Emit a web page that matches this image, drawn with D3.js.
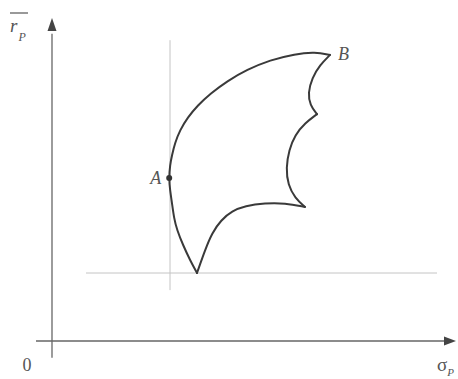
<!DOCTYPE html>
<html>
<head>
<meta charset="utf-8">
<script src="https://cdn.jsdelivr.net/npm/d3@7"></script>
<style>
  html, body { margin: 0; padding: 0; background: #fff; }
  svg { display: block; }
  text { font-family: "Liberation Serif", "DejaVu Serif", serif; fill: #555; }
</style>
</head>
<body>
<script>
// Feasible set of risky portfolios in (σ_P, r̄_P) space, drawn as four boundary arcs.
// Each arc runs between cusps (σ, r̄) in arbitrary units.
const upperFrontier = [
  [36.25, 21.25], [34.5, 25.3], [32.75, 30], [31.25, 34.7], [30.5, 38.4],
  [30, 43.1], [29.5, 47.2], [29.25, 50.9], [29.5, 55], [30, 58.1],
  [30.75, 61.9], [32, 65.9], [33.9, 69.8], [36.4, 73.6], [39.6, 77.3],
  [43.75, 81.2], [48.75, 84.8], [54.5, 87.8], [60.75, 89.7], [65.75, 90.3],
  [69.5, 89.4]
];
const rightArcTop = [
  [69.5, 89.4], [67, 86.25], [65, 82.2], [64, 77.5], [64.5, 73.75], [66.25, 70.9]
];
const rightArcMid = [
  [66.25, 70.9], [63.25, 68.1], [60.75, 64.4], [59.25, 59.7], [58.5, 54.1],
  [59, 48.75], [60.75, 44.7], [63.25, 41.9]
];
const lowerArc = [
  [63.25, 41.9], [58.25, 43.1], [53.25, 43.1], [48.25, 42.2], [45, 40.6],
  [42.25, 37.8], [40, 33.75], [38.25, 28.4], [36.25, 21.25]
];
const pointA = { label: "A", sigma: 29.3, r: 50.9 };
const pointB = { label: "B", sigma: 69.5, r: 89.4 };
// Guide lines: vertical through the minimum-variance point, horizontal through the lowest cusp
const guideV = { sigma: 29.5, r0: 15.9, r1: 94 };
const guideH = { r: 21.25, s0: 8.5, s1: 96.25 };

const W = 458, H = 379;
const x = d3.scaleLinear().domain([0, 100]).range([52, 452]);
const y = d3.scaleLinear().domain([0, 100]).range([341, 21]);

const svg = d3.select("body").append("svg").attr("width", W).attr("height", H);

// guide lines
svg.append("line")
  .attr("x1", x(guideV.sigma)).attr("x2", x(guideV.sigma))
  .attr("y1", y(guideV.r0)).attr("y2", y(guideV.r1))
  .attr("stroke", "#c4c4c4").attr("stroke-width", 1);
svg.append("line")
  .attr("x1", x(guideH.s0)).attr("x2", x(guideH.s1))
  .attr("y1", y(guideH.r)).attr("y2", y(guideH.r))
  .attr("stroke", "#c4c4c4").attr("stroke-width", 1);

// axes
const axisColor = "#666";
svg.append("line")
  .attr("x1", x(-4)).attr("x2", x(99))
  .attr("y1", y(0)).attr("y2", y(0))
  .attr("stroke", axisColor).attr("stroke-width", 1.3);
svg.append("line")
  .attr("x1", x(0)).attr("x2", x(0))
  .attr("y1", y(-5.2)).attr("y2", y(96))
  .attr("stroke", axisColor).attr("stroke-width", 1.3);
// arrow heads
const tipX = [x(101), y(0)];
svg.append("path")
  .attr("d", `M${tipX[0]},${tipX[1]} L${tipX[0] - 12},${tipX[1] - 4.5} L${tipX[0] - 12},${tipX[1] + 4.5} Z`)
  .attr("fill", "#444");
const tipY = [x(0), y(100.9)];
svg.append("path")
  .attr("d", `M${tipY[0]},${tipY[1]} L${tipY[0] - 4.5},${tipY[1] + 13} L${tipY[0] + 4.5},${tipY[1] + 13} Z`)
  .attr("fill", "#444");

// feasible set boundary
const line = d3.line()
  .x(d => x(d[0])).y(d => y(d[1]))
  .curve(d3.curveBasis);
[upperFrontier, rightArcTop, rightArcMid, lowerArc].forEach(seg => {
  svg.append("path")
    .attr("d", line(seg))
    .attr("fill", "none")
    .attr("stroke", "#3a3a3a")
    .attr("stroke-width", 2)
    .attr("stroke-linecap", "round")
    .attr("stroke-linejoin", "round");
});

// point A marker
svg.append("circle")
  .attr("cx", x(pointA.sigma)).attr("cy", y(pointA.r))
  .attr("r", 3).attr("fill", "#333");

// point labels
svg.append("text")
  .attr("x", x(pointA.sigma) - 8).attr("y", y(pointA.r) + 6)
  .attr("text-anchor", "end").attr("font-size", 18).attr("font-style", "italic")
  .text(pointA.label);
svg.append("text")
  .attr("x", x(pointB.sigma) + 8).attr("y", y(pointB.r) + 5)
  .attr("font-size", 18).attr("font-style", "italic")
  .text(pointB.label);

// origin
svg.append("text")
  .attr("x", 27).attr("y", 371)
  .attr("text-anchor", "middle").attr("font-size", 18)
  .text("0");

// y-axis title: r̄ with subscript P
const yt = svg.append("text").attr("x", 10).attr("y", 32).attr("font-size", 19);
yt.append("tspan").attr("font-style", "italic").text("r");
yt.append("tspan").attr("font-style", "italic").attr("font-size", 12).attr("dx", 1).attr("dy", 9).text("P");
svg.append("line")
  .attr("x1", 10).attr("x2", 28).attr("y1", 13).attr("y2", 13)
  .attr("stroke", "#555").attr("stroke-width", 1.2);

// x-axis title: σ with subscript P
const xt = svg.append("text").attr("x", 437).attr("y", 371).attr("font-size", 19);
xt.append("tspan").text("σ");
xt.append("tspan").attr("font-style", "italic").attr("font-size", 11).attr("dx", 0).attr("dy", 5).text("P");
</script>
</body>
</html>
